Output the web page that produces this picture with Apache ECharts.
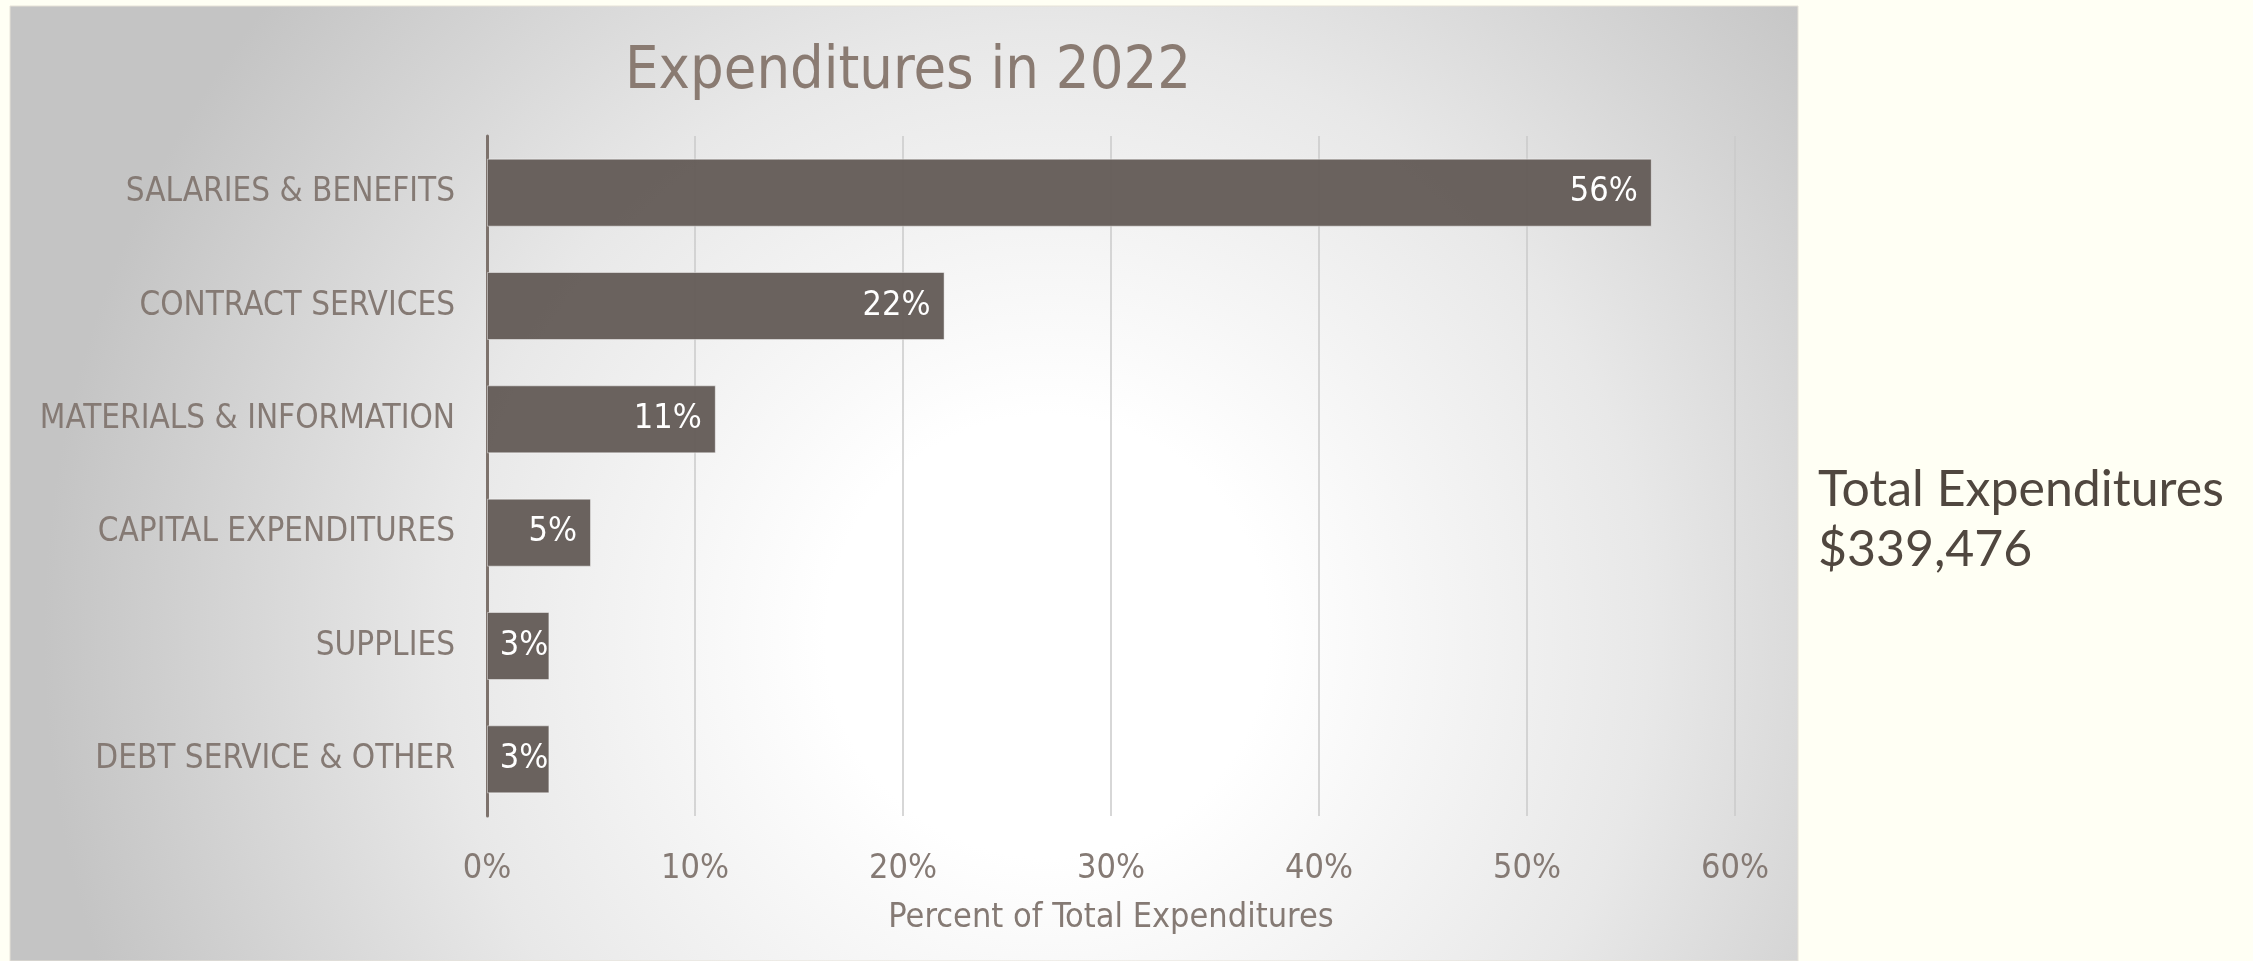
<!DOCTYPE html>
<html>
<head>
<meta charset="utf-8">
<script src="https://cdn.jsdelivr.net/npm/echarts@6/dist/echarts.min.js"></script>
<style>
html,body{margin:0;padding:0;background:#fffff4;}
#chart{width:2253px;height:961px;}
</style>
</head>
<body>
<div id="chart"></div>
<script>
const categories = ['SALARIES & BENEFITS','CONTRACT SERVICES','MATERIALS & INFORMATION','CAPITAL EXPENDITURES','SUPPLIES','DEBT SERVICE & OTHER'];
const percentValues = [56, 22, 11, 5, 3, 3];
const axisTicks = [0, 10, 20, 30, 40, 50, 60];
const chartTitle = 'Expenditures in 2022';
const axisTitle = 'Percent of Total Expenditures';
const sideNote = ['Total Expenditures', '$339,476'];

const NARROW = "'Liberation Sans Narrow','DejaVu Sans Condensed','Noto Sans',sans-serif";
const chart = echarts.init(document.getElementById('chart'));
chart.setOption({
  backgroundColor: '#fffff4',
  graphic: [
    {
      type: 'rect', z: -10, silent: true,
      shape: {x: 10, y: 6, width: 1788, height: 955},
      style: {
        fill: {type: 'radial', x: 0.58, y: 0.66, r: 1.05,
          colorStops: [{offset: 0, color: '#ffffff'}, {offset: 0.22, color: '#ffffff'}, {offset: 0.6, color: '#e8e8e8'}, {offset: 1, color: '#c4c4c4'}]},
        stroke: '#e6e2d8', lineWidth: 1
      }
    },
    {
      type: 'text', left: 1818, top: 460,
      style: {text: sideNote.join('\n'), font: "50px Lato, 'Noto Sans', sans-serif", fill: '#50473f', lineHeight: 60}
    }
  ],
  title: {
    text: chartTitle, left: 903, top: 68, textAlign: 'center', textVerticalAlign: 'middle',
    textStyle: {fontFamily: NARROW, fontSize: 59, fontWeight: 'normal', color: '#8a7b72'}
  },
  grid: {left: 487, right: 518, top: 136, bottom: 145, containLabel: false},
  xAxis: {
    type: 'value', min: axisTicks[0], max: axisTicks[axisTicks.length - 1], interval: 10,
    name: axisTitle, nameLocation: 'middle', nameGap: 85,
    nameTextStyle: {fontFamily: NARROW, fontSize: 34, color: '#857a74'},
    axisLine: {show: false}, axisTick: {show: false},
    axisLabel: {formatter: '{value}%', fontFamily: NARROW, fontSize: 34, color: '#857a74', margin: 36},
    splitLine: {lineStyle: {color: '#cacaca', width: 1.5}}
  },
  yAxis: {
    type: 'category', data: categories, inverse: true,
    axisLine: {lineStyle: {color: '#7d726c', width: 3}},
    axisTick: {show: false},
    axisLabel: {fontFamily: NARROW, fontSize: 33, color: '#857a74', margin: 32}
  },
  series: [{
    type: 'bar', barCategoryGap: '40%',
    data: percentValues.map(v => v < 4 ? {value: v, label: {distance: 1}} : v),
    itemStyle: {color: 'rgba(100,92,87,0.96)', borderColor: 'rgba(255,255,255,0.45)', borderWidth: 1},
    label: {show: true, position: 'insideRight', distance: 14, formatter: '{c}%',
      fontFamily: NARROW, fontSize: 34, color: '#ffffff'}
  }]
});
</script>
</body>
</html>
